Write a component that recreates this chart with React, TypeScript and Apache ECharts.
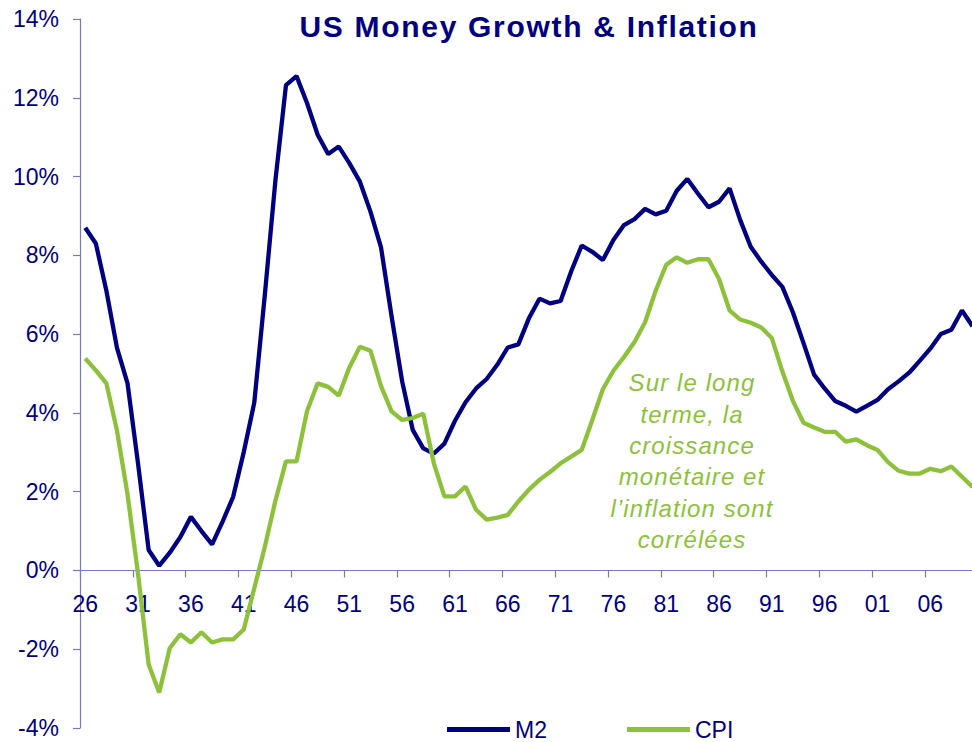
import React, { useEffect, useRef } from "react";
import * as echarts from "echarts";

const years = [
  "26","27","28","29","30","31","32","33","34","35",
  "36","37","38","39","40","41","42","43","44","45",
  "46","47","48","49","50","51","52","53","54","55",
  "56","57","58","59","60","61","62","63","64","65",
  "66","67","68","69","70","71","72","73","74","75",
  "76","77","78","79","80","81","82","83","84","85",
  "86","87","88","89","90","91","92","93","94","95",
  "96","97","98","99","00","01","02","03","04","05",
  "06","07","08","09","10",
];

const m2 = [
  8.7, 8.3, 7.1, 5.65, 4.75, 2.7, 0.52, 0.12, 0.45, 0.85,
  1.36, 1.0, 0.66, 1.24, 1.87, 3.0, 4.26, 7.0, 9.9, 12.32,
  12.55, 11.86, 11.06, 10.57, 10.76, 10.34, 9.87, 9.11, 8.2, 6.45,
  4.8, 3.57, 3.1, 2.97, 3.22, 3.8, 4.27, 4.62, 4.86, 5.22,
  5.66, 5.74, 6.4, 6.9, 6.78, 6.84, 7.59, 8.25, 8.09, 7.88,
  8.39, 8.77, 8.92, 9.18, 9.04, 9.13, 9.64, 9.94, 9.57, 9.22,
  9.36, 9.7, 8.9, 8.22, 7.84, 7.5, 7.2, 6.55, 5.77, 4.97,
  4.62, 4.3, 4.18, 4.03, 4.18, 4.33, 4.6, 4.8, 5.02, 5.32,
  5.63, 6.0, 6.11, 6.6, 6.2,
];

const cpi = [
  5.38, 5.08, 4.75, 3.55, 1.93, -0.1, -2.39, -3.1, -1.97, -1.62,
  -1.83, -1.57, -1.83, -1.75, -1.75, -1.5, -0.45, 0.6, 1.77, 2.77,
  2.77, 4.05, 4.75, 4.66, 4.44, 5.15, 5.68, 5.58, 4.68, 4.04,
  3.82, 3.87, 3.98, 2.72, 1.88, 1.88, 2.13, 1.54, 1.29, 1.34,
  1.41, 1.75, 2.05, 2.3, 2.5, 2.72, 2.89, 3.06, 3.82, 4.6,
  5.07, 5.42, 5.8, 6.3, 7.1, 7.76, 7.95, 7.81, 7.9, 7.9,
  7.4, 6.6, 6.37, 6.29, 6.17, 5.9, 5.05, 4.3, 3.75, 3.63,
  3.52, 3.52, 3.27, 3.33, 3.18, 3.06, 2.75, 2.53, 2.46, 2.46,
  2.58, 2.52, 2.64, 2.38, 2.12,
];

const yTicks = { min: -4, max: 14, interval: 2 };

const TITLE = "US Money Growth & Inflation";
const NOTE_LINES = [
  "Sur le long",
  "terme, la",
  "croissance",
  "monétaire et",
  "l\u2019inflation sont",
  "corrélées",
];

const NAVY = "#000080";
const GREEN = "#8DC13B";
const AXIS = "#7878BE";
const FONT = "'Liberation Sans', Arial, sans-serif";

const GRID_TOP = 19;
const GRID_HEIGHT = 709;
// place the category axis on the 0% line
const ZERO_OFFSET =
  -(GRID_HEIGHT * (0 - yTicks.min)) / (yTicks.max - yTicks.min);

export default function App() {
  const ref = useRef<HTMLDivElement>(null);

  useEffect(() => {
    if (!ref.current) return;
    const el = ref.current;
    const chart = echarts.init(el, undefined, { renderer: "svg" });

    chart.setOption({
      animation: false,
      backgroundColor: "#ffffff",
      textStyle: { fontFamily: FONT },
      grid: {
        left: 80,
        top: GRID_TOP,
        width: 897.8,
        height: GRID_HEIGHT,
        containLabel: false,
        outerBoundsMode: "none",
      },
      legend: {
        data: ["M2", "CPI"],
        left: 442,
        top: 713,
        icon: "rect",
        itemWidth: 63,
        itemHeight: 5,
        itemGap: 80,
        textStyle: { color: NAVY, fontSize: 23, fontFamily: FONT },
      },
      xAxis: {
        type: "category",
        data: years,
        boundaryGap: true,
        position: "bottom",
        offset: ZERO_OFFSET,
        axisLine: { onZero: false, lineStyle: { color: AXIS, width: 1.2 } },
        axisTick: { show: true, interval: 4, length: 7, inside: false, lineStyle: { color: AXIS, width: 1.2 } },
        axisLabel: { interval: 4, color: NAVY, fontSize: 23, fontFamily: FONT, margin: 22 },
        splitLine: { show: false },
      },
      yAxis: {
        type: "value",
        min: yTicks.min,
        max: yTicks.max,
        interval: yTicks.interval,
        axisLine: { show: true, lineStyle: { color: AXIS, width: 1.2 } },
        axisTick: { show: true, length: 7, lineStyle: { color: AXIS, width: 1.2 } },
        axisLabel: { color: NAVY, fontSize: 23, fontFamily: FONT, margin: 21, formatter: "{value}%" },
        splitLine: { show: false },
      },
      series: [
        {
          name: "M2",
          type: "line",
          data: m2,
          symbol: "none",
          color: NAVY,
          lineStyle: { color: NAVY, width: 4.3 },
          z: 2,
        },
        {
          name: "CPI",
          type: "line",
          data: cpi,
          symbol: "none",
          color: GREEN,
          lineStyle: { color: GREEN, width: 4.3 },
          z: 3,
        },
      ],
      graphic: [
        {
          type: "text",
          x: 529,
          y: 26.5,
          style: {
            text: TITLE,
            font: `bold 30px ${FONT}`,
            fill: NAVY,
            textAlign: "center",
            textVerticalAlign: "middle",
          },
        },
        {
          type: "text",
          x: 692,
          y: 367,
          style: {
            text: NOTE_LINES.join("\n"),
            font: `italic 24px ${FONT}`,
            fill: GREEN,
            lineHeight: 31.4,
            textAlign: "center",
            textVerticalAlign: "top",
          },
        },
      ],
    });

    const applySpacing = () => {
      el.querySelectorAll("svg text").forEach((t) => {
        const s = t.textContent || "";
        if (s === TITLE) t.setAttribute("letter-spacing", "1.7");
        else if (NOTE_LINES.includes(s)) t.setAttribute("letter-spacing", "1.1");
      });
    };
    applySpacing();
    chart.on("finished", applySpacing);
    const timer = window.setTimeout(applySpacing, 50);

    return () => {
      window.clearTimeout(timer);
      chart.dispose();
    };
  }, []);

  return (
    <div
      ref={ref}
      style={{ position: "fixed", left: 0, top: 0, width: 972, height: 742, background: "#fff" }}
    />
  );
}
